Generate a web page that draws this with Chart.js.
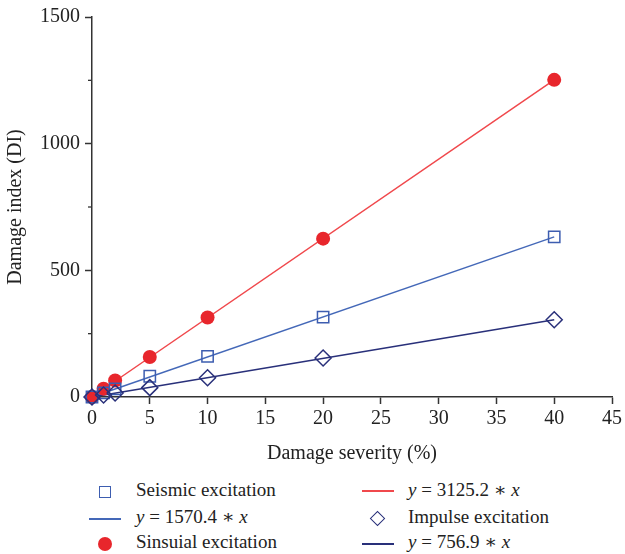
<!DOCTYPE html>
<html><head><meta charset="utf-8">
<script src="https://cdn.jsdelivr.net/npm/chart.js@4"></script>
<style>
html,body{margin:0;padding:0;background:#fff;}
#wrap{position:relative;width:625px;height:554px;font-family:"Liberation Serif","DejaVu Serif",serif;color:#222;}
#c{position:absolute;left:0;top:0;}
.lg{position:absolute;font-size:19px;line-height:20px;white-space:nowrap;}
.mk{position:absolute;}
</style></head><body>
<div id="wrap">
<canvas id="c" width="625" height="470"></canvas>
<div class="mk" style="left:99px;top:486px;width:10px;height:10px;border:1.5px solid #3d5db0;"></div>
<div class="lg" style="left:136px;top:480px;">Seismic excitation</div>
<div class="mk" style="left:89px;top:518px;width:32px;height:1.5px;background:#4468b8;"></div>
<div class="lg" style="left:136px;top:507px;"><i>y</i> = 1570.4 ∗ <i>x</i></div>
<div class="mk" style="left:98px;top:537px;width:14px;height:14px;border-radius:50%;background:#e8262c;"></div>
<div class="lg" style="left:136px;top:532px;">Sinsuial excitation</div>
<div class="mk" style="left:362px;top:490px;width:32px;height:1.5px;background:#f0484c;"></div>
<div class="lg" style="left:408px;top:480px;"><i>y</i> = 3125.2 ∗ <i>x</i></div>
<div class="mk" style="left:372px;top:513px;width:9px;height:9px;border:1.5px solid #29307a;transform:rotate(45deg);"></div>
<div class="lg" style="left:408px;top:507px;">Impulse excitation</div>
<div class="mk" style="left:362px;top:543px;width:32px;height:1.5px;background:#29307a;"></div>
<div class="lg" style="left:408px;top:532px;"><i>y</i> = 756.9 ∗ <i>x</i></div>
</div>
<script>
const severity = [0, 1, 2, 5, 10, 20, 40];
const seismic  = [0, 16, 32, 82, 160, 315, 632];
const sinsuial = [0, 33, 65, 158, 314, 625, 1252];
const impulse  = [0, 8, 16, 37, 76, 154, 305];
const fitX = [0, 40];
const fitSinsuial = [0, 1252];
const fitSeismic = [0, 632];
const fitImpulse = [0, 305];
const xTicks = [0,5,10,15,20,25,30,35,40,45];
const yTicks = [0,500,1000,1500];
const yMinor = [250,750,1250];

const RED='#e8262c', BLUE='#3d5db0', NAVY='#29307a';
const pts = (xs, ys) => xs.map((x,i)=>({x, y: ys[i]}));
const FONT = {family:'"Liberation Serif","DejaVu Serif",serif', size:20};

const minorTicks = {
  id:'minorTicks',
  afterDraw(chart){
    const ctx = chart.ctx, y = chart.scales.y, left = chart.chartArea.left;
    ctx.save(); ctx.strokeStyle='#333'; ctx.lineWidth=1.3;
    yMinor.forEach(v=>{ const p = y.getPixelForValue(v);
      ctx.beginPath(); ctx.moveTo(left-4,p); ctx.lineTo(left,p); ctx.stroke(); });
    ctx.restore();
  }
};

new Chart(document.getElementById('c'), {
  type:'scatter',
  data:{ datasets:[
    {label:'y = 3125.2 * x', type:'line', data:pts(fitX,fitSinsuial), borderColor:'#f0484c', borderWidth:1.5, pointRadius:0, order:5},
    {label:'y = 1570.4 * x', type:'line', data:pts(fitX,fitSeismic), borderColor:'#4468b8', borderWidth:1.5, pointRadius:0, order:4},
    {label:'y = 756.9 * x', type:'line', data:pts(fitX,fitImpulse), borderColor:NAVY, borderWidth:1.5, pointRadius:0, order:3},
    {label:'Sinsuial excitation', data:pts(severity,sinsuial), pointStyle:'circle', pointRadius:7, backgroundColor:RED, borderColor:RED, borderWidth:0, order:2},
    {label:'Seismic excitation', data:pts(severity,seismic), pointStyle:'rect', pointRadius:8, backgroundColor:'rgba(255,255,255,0)', borderColor:BLUE, borderWidth:1.5, order:1},
    {label:'Impulse excitation', data:pts(severity,impulse), pointStyle:'rectRot', pointRadius:8, backgroundColor:'rgba(255,255,255,0)', borderColor:NAVY, borderWidth:1.5, order:0}
  ]},
  options:{
    animation:false, responsive:false, clip:false,
    layout:{padding:{top:14,right:12,left:0,bottom:0}},
    plugins:{legend:{display:false}, tooltip:{enabled:false}},
    scales:{
      x:{ type:'linear', min:0, max:45,
        afterBuildTicks(s){ s.ticks = xTicks.map(v=>({value:v})); },
        afterFit(s){ s.height = 73; },
        border:{color:'#333', width:1.5},
        grid:{drawOnChartArea:false, drawTicks:true, tickLength:7, color:'#333', tickWidth:1.5},
        ticks:{color:'#222', font:FONT, padding:3, maxRotation:0, callback:v=>String(v)},
        title:{display:true, text:'Damage severity (%)', color:'#222', font:FONT, padding:{top:2}}
      },
      y:{ type:'linear', min:0, max:1500,
        afterBuildTicks(s){ s.ticks = yTicks.map(v=>({value:v})); },
        afterFit(s){ s.width = 92; },
        border:{color:'#333', width:1.5},
        grid:{drawOnChartArea:false, drawTicks:true, tickLength:7, color:'#333', tickWidth:1.5},
        ticks:{color:'#222', font:FONT, padding:5, callback:v=>String(v)},
        title:{display:true, text:'Damage index (DI)', color:'#222', font:FONT, padding:{bottom:4}}
      }
    }
  },
  plugins:[minorTicks]
});
</script>
</body></html>
